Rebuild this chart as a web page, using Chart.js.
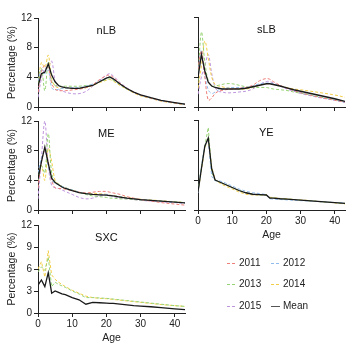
<!DOCTYPE html>
<html>
<head>
<meta charset="utf-8">
<script src="https://cdn.jsdelivr.net/npm/chart.js@4.4.1/dist/chart.umd.min.js"></script>
<style>
  html, body { margin: 0; padding: 0; background: #fff; }
  body { width: 354px; height: 348px; position: relative; overflow: hidden; font-family: "Liberation Sans", Arial, sans-serif; }
  canvas { position: absolute; }
  .key { position: absolute; height: 12px; font-size: 10px; line-height: 12px; color: #222; white-space: nowrap; }
  .key svg { position: absolute; left: 0; top: 0; }
  .key span { position: absolute; top: 0; }
</style>
</head>
<body>
<canvas id="panel-nlb" width="192" height="128" style="left:0px; top:10px"></canvas>
<canvas id="panel-slb" width="192" height="128" style="left:160px; top:10px"></canvas>
<canvas id="panel-me" width="192" height="128" style="left:0px; top:113px"></canvas>
<canvas id="panel-ye" width="192" height="128" style="left:160px; top:113px"></canvas>
<canvas id="panel-sxc" width="192" height="127" style="left:0px; top:217px"></canvas>
<div id="legend"></div>
<script>
// ---- data: percentage of catch by age, per stock and survey year ----
const ages = [0, 1, 2, 3, 4, 5, 6, 7, 8, 10, 12, 14, 16, 18, 20, 21, 22, 24, 26, 28, 30, 33, 36, 40, 43];

const years = ['2011', '2012', '2013', '2014', '2015'];
const yearColors = ['#ee7f7a', '#90bcec', '#96d374', '#f2ce48', '#bf96de'];

const xTicks = [0, 10, 20, 30, 40];
const yTicks = [0, 4, 8, 12];
const yTicksSxc = [0, 3, 6, 9, 12];

// nLB
const nlb2011 = [2.0, 4.8, 5.6, 5.3, 3.2, 2.4, 2.2, 2.2, 2.2, 2.3, 2.4, 2.6, 3.0, 3.7, 4.2, 4.3, 4.0, 3.2, 2.5, 2.0, 1.6, 1.2, 0.85, 0.55, 0.35];
const nlb2012 = [3.5, 5.0, 4.5, 5.0, 2.6, 2.3, 2.4, 2.5, 2.5, 2.6, 2.6, 2.8, 3.1, 3.5, 3.9, 4.0, 3.8, 3.1, 2.5, 2.0, 1.6, 1.2, 0.85, 0.55, 0.35];
const nlb2013 = [3.2, 5.2, 2.2, 6.0, 3.5, 2.9, 2.8, 2.8, 2.8, 2.8, 2.8, 2.9, 3.0, 3.4, 3.7, 3.8, 3.6, 3.0, 2.4, 2.0, 1.6, 1.2, 0.85, 0.55, 0.35];
const nlb2014 = [3.0, 6.0, 5.3, 7.0, 3.8, 2.8, 2.6, 2.5, 2.5, 2.5, 2.5, 2.6, 2.9, 3.3, 3.6, 3.7, 3.5, 2.9, 2.4, 1.9, 1.5, 1.15, 0.8, 0.5, 0.3];
const nlb2015 = [1.3, 3.8, 5.2, 5.4, 6.2, 3.5, 2.4, 2.2, 2.0, 1.8, 1.8, 2.1, 2.8, 3.6, 4.3, 4.5, 4.2, 3.3, 2.6, 2.0, 1.6, 1.2, 0.85, 0.55, 0.35];
const nlbMean = [2.8, 4.5, 4.7, 5.8, 4.3, 3.4, 2.9, 2.7, 2.6, 2.5, 2.5, 2.7, 2.9, 3.4, 3.9, 4.05, 3.8, 3.1, 2.5, 2.0, 1.65, 1.25, 0.9, 0.6, 0.4];

// sLB
const slb2011 = [5.0, 7.5, 4.0, 0.9, 1.2, 1.8, 2.1, 2.2, 2.3, 2.4, 2.5, 2.6, 2.9, 3.5, 3.8, 3.7, 3.4, 2.9, 2.5, 2.2, 1.9, 1.55, 1.25, 0.9, 0.65];
const slb2012 = [4.5, 7.6, 4.2, 2.3, 1.8, 2.0, 2.3, 2.4, 2.5, 2.6, 2.6, 2.6, 2.8, 3.1, 3.2, 3.2, 3.1, 2.8, 2.5, 2.2, 1.9, 1.55, 1.25, 0.9, 0.6];
const slb2013 = [3.5, 10.0, 6.0, 3.5, 2.8, 2.8, 2.9, 3.0, 3.1, 3.1, 2.9, 2.7, 2.6, 2.6, 2.6, 2.5, 2.4, 2.3, 2.2, 2.0, 1.85, 1.6, 1.3, 1.0, 0.75];
const slb2014 = [2.5, 5.5, 8.8, 6.5, 4.0, 3.0, 2.8, 2.7, 2.6, 2.5, 2.4, 2.4, 2.6, 2.9, 3.1, 3.1, 3.0, 2.8, 2.6, 2.4, 2.3, 2.1, 1.9, 1.6, 1.3];
const slb2015 = [1.7, 4.0, 5.5, 7.0, 4.5, 2.6, 2.1, 2.0, 1.9, 1.9, 2.0, 2.1, 2.4, 3.0, 3.4, 3.4, 3.2, 2.8, 2.4, 2.1, 1.8, 1.5, 1.2, 0.9, 0.6];
const slbMean = [3.9, 7.0, 4.8, 3.3, 2.8, 2.6, 2.5, 2.4, 2.4, 2.4, 2.4, 2.5, 2.7, 2.9, 3.1, 3.1, 3.0, 2.8, 2.55, 2.3, 2.1, 1.8, 1.5, 1.1, 0.75];

// ME
const me2011 = [3.0, 6.5, 8.0, 6.5, 4.0, 3.0, 2.9, 2.9, 2.8, 2.6, 2.4, 2.3, 2.4, 2.5, 2.5, 2.4, 2.3, 2.1, 1.8, 1.6, 1.4, 1.2, 1.0, 0.8, 0.65];
const me2012 = [5.0, 7.0, 8.0, 6.0, 4.0, 3.6, 3.4, 3.2, 3.0, 2.7, 2.4, 2.2, 2.1, 2.1, 2.1, 2.0, 1.9, 1.8, 1.6, 1.5, 1.4, 1.3, 1.2, 1.05, 0.95];
const me2013 = [4.0, 6.0, 5.0, 10.3, 5.0, 3.8, 3.5, 3.2, 3.0, 2.7, 2.4, 2.1, 1.9, 1.8, 1.7, 1.6, 1.6, 1.5, 1.5, 1.4, 1.35, 1.3, 1.2, 1.1, 1.0];
const me2014 = [4.5, 6.0, 4.0, 8.3, 6.5, 4.0, 3.5, 3.2, 3.0, 2.7, 2.4, 2.2, 2.2, 2.2, 2.1, 2.0, 1.95, 1.8, 1.7, 1.55, 1.45, 1.35, 1.25, 1.1, 1.0];
const me2015 = [1.5, 7.0, 12.0, 6.0, 3.3, 3.0, 2.9, 2.7, 2.5, 2.1, 1.7, 1.5, 1.6, 1.9, 2.1, 2.0, 1.8, 1.6, 1.5, 1.4, 1.3, 1.2, 1.1, 1.0, 0.9];
const meMean = [4.2, 6.5, 8.5, 6.3, 4.3, 3.7, 3.4, 3.1, 2.9, 2.6, 2.35, 2.2, 2.1, 2.05, 2.0, 1.95, 1.9, 1.75, 1.6, 1.5, 1.4, 1.3, 1.2, 1.05, 0.95];

// YE
const ye2012 = [2.3, 5.8, 8.7, 9.3, 4.5, 3.9, 3.9, 3.8, 3.6, 3.2, 2.8, 2.5, 2.3, 2.2, 2.05, 1.5, 1.45, 1.4, 1.35, 1.3, 1.25, 1.2, 1.1, 1.0, 0.95];
const ye2013 = [2.5, 5.8, 8.5, 11.0, 5.0, 4.0, 3.8, 3.6, 3.4, 3.0, 2.6, 2.3, 2.1, 2.0, 2.0, 1.6, 1.6, 1.5, 1.45, 1.4, 1.3, 1.2, 1.1, 0.98, 0.88];
const ye2014 = [2.4, 5.3, 8.3, 9.5, 5.8, 4.0, 3.7, 3.4, 3.2, 2.8, 2.4, 2.1, 2.0, 2.0, 2.05, 1.7, 1.65, 1.55, 1.5, 1.4, 1.35, 1.25, 1.1, 0.95, 0.8];
const yeMean = [2.4, 5.5, 8.5, 9.6, 5.5, 4.0, 3.8, 3.6, 3.4, 3.0, 2.6, 2.3, 2.1, 2.05, 2.0, 1.6, 1.58, 1.5, 1.45, 1.38, 1.32, 1.22, 1.12, 0.98, 0.88];

// SXC
const sxc2013 = [5.6, 6.3, 5.8, 7.6, 3.6, 4.2, 3.9, 3.7, 3.5, 3.0, 2.6, 2.1, 2.1, 2.05, 2.0, 1.95, 1.9, 1.8, 1.7, 1.6, 1.5, 1.35, 1.2, 1.0, 0.9];
const sxc2014 = [6.0, 7.0, 4.9, 8.5, 5.2, 4.6, 4.2, 3.9, 3.6, 3.1, 2.7, 2.3, 2.1, 2.0, 1.95, 1.9, 1.85, 1.75, 1.65, 1.55, 1.45, 1.3, 1.15, 1.0, 0.9];
const sxcMean = [3.8, 4.5, 3.6, 5.5, 2.7, 3.0, 2.8, 2.6, 2.5, 2.1, 1.8, 1.2, 1.45, 1.4, 1.35, 1.32, 1.3, 1.2, 1.1, 1.0, 0.95, 0.85, 0.72, 0.55, 0.45];

const FONT = '"Liberation Sans", Arial, sans-serif';
const INK = '#222';

function points(values) {
  return values.map(function(v, i) { return { x: ages[i], y: v }; });
}

function yearSet(year, values, tension) {
  const i = years.indexOf(year);
  return {
    label: year,
    data: points(values),
    borderColor: yearColors[i],
    borderWidth: 1,
    borderDash: [3, 2],
    tension: tension,
    pointRadius: 0,
    order: 1
  };
}

function meanSet(values) {
  return {
    label: 'Mean',
    data: points(values),
    borderColor: '#1a1a1a',
    borderWidth: 1.3,
    tension: 0,
    pointRadius: 0,
    order: 0
  };
}

// panel name written inside the plot area, above age 20
const panelName = {
  id: 'panelName',
  afterDraw(chart, args, opts) {
    const ctx = chart.ctx;
    ctx.save();
    ctx.font = '11px ' + FONT;
    ctx.fillStyle = '#111';
    ctx.textAlign = 'center';
    ctx.textBaseline = 'middle';
    ctx.fillText(opts.text, chart.scales.x.getPixelForValue(20), chart.chartArea.top + 12.5);
    ctx.restore();
  }
};

function makePanel(id, name, datasets, showX, showY, yValues) {
  const ctx = document.getElementById(id).getContext('2d');
  return new Chart(ctx, {
    type: 'line',
    data: { datasets: datasets },
    options: {
      responsive: false,
      animation: false,
      devicePixelRatio: 1,
      layout: { padding: { top: 7, right: 7, left: 0, bottom: 0 } },
      plugins: {
        legend: { display: false },
        tooltip: { enabled: false },
        panelName: { text: name }
      },
      scales: {
        x: {
          type: 'linear',
          min: 0,
          max: 43,
          afterBuildTicks: function(scale) { scale.ticks = xTicks.map(function(v) { return { value: v }; }); },
          afterFit: function(scale) { scale.height = 31; },
          grid: { display: true, drawOnChartArea: false, drawTicks: true, tickLength: 4, color: INK, lineWidth: 1 },
          border: { display: true, color: INK, width: 1 },
          ticks: { display: showX, padding: 1, color: INK, maxRotation: 0, font: { family: FONT, size: 10 } },
          title: { display: showX, text: 'Age', color: INK, padding: 0, font: { family: FONT, size: 10.5 } }
        },
        y: {
          min: 0,
          max: 12,
          afterBuildTicks: function(scale) { scale.ticks = yValues.map(function(v) { return { value: v }; }); },
          afterFit: function(scale) { scale.width = 38; },
          grid: { display: true, drawOnChartArea: false, drawTicks: true, tickLength: 4, color: INK, lineWidth: 1 },
          border: { display: true, color: INK, width: 1 },
          ticks: { display: showY, padding: 2, color: INK, font: { family: FONT, size: 10 } },
          title: { display: showY, text: 'Percentage (%)', color: INK, padding: { top: 5.6, bottom: 0 }, font: { family: FONT, size: 10.5 } }
        }
      }
    },
    plugins: [panelName]
  });
}

makePanel('panel-nlb', 'nLB', [
  meanSet(nlbMean),
  yearSet('2011', nlb2011, 0.35), yearSet('2012', nlb2012, 0.35), yearSet('2013', nlb2013, 0.35),
  yearSet('2014', nlb2014, 0.35), yearSet('2015', nlb2015, 0.35)
], false, true, yTicks);

makePanel('panel-slb', 'sLB', [
  meanSet(slbMean),
  yearSet('2011', slb2011, 0.35), yearSet('2012', slb2012, 0.35), yearSet('2013', slb2013, 0.35),
  yearSet('2014', slb2014, 0.35), yearSet('2015', slb2015, 0.35)
], false, false, yTicks);

makePanel('panel-me', 'ME', [
  meanSet(meMean),
  yearSet('2011', me2011, 0.35), yearSet('2012', me2012, 0.35), yearSet('2013', me2013, 0.35),
  yearSet('2014', me2014, 0.35), yearSet('2015', me2015, 0.35)
], false, true, yTicks);

makePanel('panel-ye', 'YE', [
  meanSet(yeMean),
  yearSet('2012', ye2012, 0), yearSet('2013', ye2013, 0), yearSet('2014', ye2014, 0)
], true, false, yTicks);

makePanel('panel-sxc', 'SXC', [
  meanSet(sxcMean),
  yearSet('2013', sxc2013, 0), yearSet('2014', sxc2014, 0)
], true, true, yTicksSxc);

// two-column key in the empty bottom-right cell
const legendEl = document.getElementById('legend');
const keys = years.map(function(y, i) { return { text: y, color: yearColors[i], dashed: true }; });
keys.push({ text: 'Mean', color: '#555', dashed: false });
keys.forEach(function(k, i) {
  const col = i % 2, row = Math.floor(i / 2);
  const left = col === 0 ? 227 : 271;
  const top = 257 + row * 21.3;
  const div = document.createElement('div');
  div.className = 'key';
  div.style.left = left + 'px';
  div.style.top = top + 'px';
  const len = k.dashed ? 8 : 9;
  div.innerHTML = '<svg width="10" height="12"><line x1="0" y1="6.5" x2="' + len + '" y2="6.5" stroke="' + k.color +
    '" stroke-width="1"' + (k.dashed ? ' stroke-dasharray="3,2"' : '') + '/></svg>' +
    '<span style="left:12px">' + k.text + '</span>';
  legendEl.appendChild(div);
});
</script>
</body>
</html>
